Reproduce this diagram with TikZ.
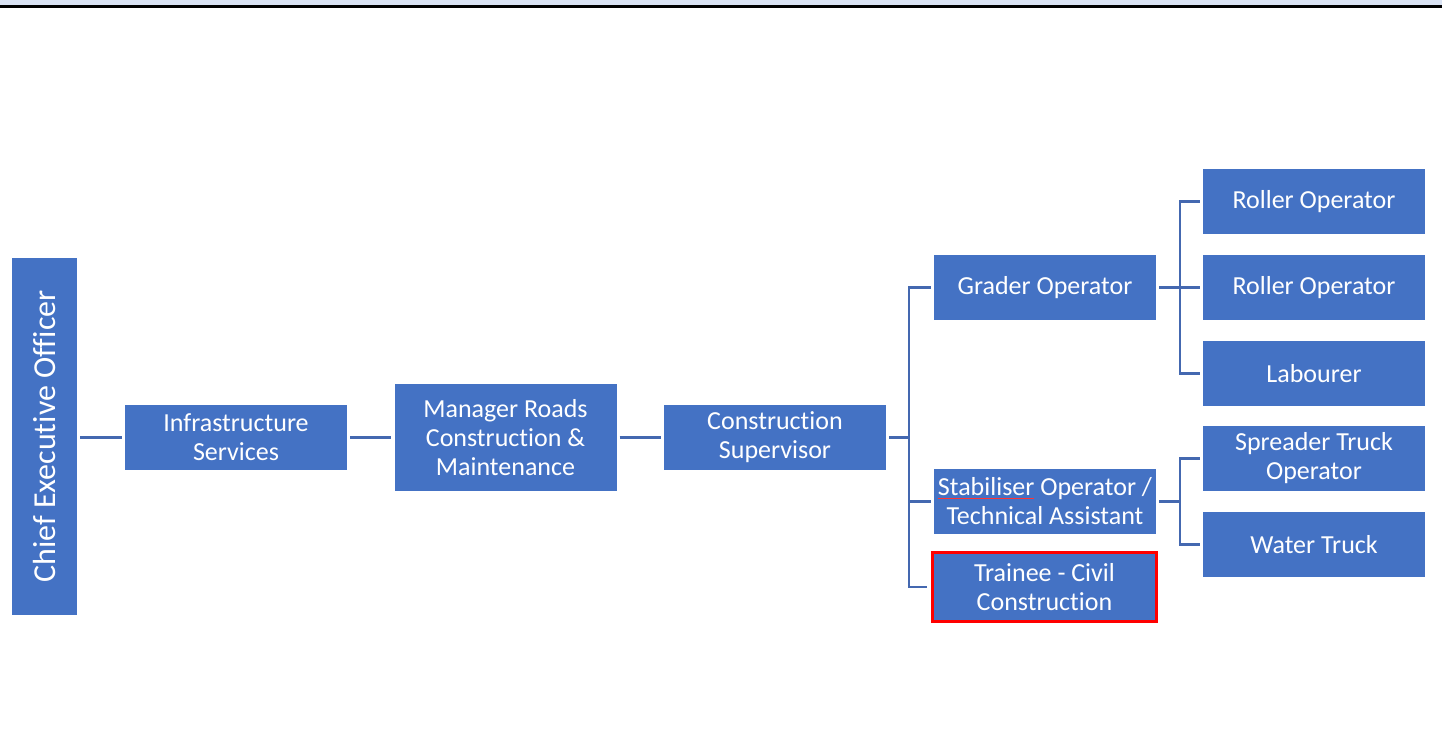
\documentclass[tikz,border=0pt]{standalone}
\usepackage{fontspec}
\setmainfont{Carlito}[Ligatures=NoCommon]
\definecolor{boxblue}{HTML}{4472C4}
\definecolor{lineblue}{HTML}{4468B0}
\definecolor{bandblue}{HTML}{D9E2F3}
\newcommand\redul[1]{\setbox0\hbox{#1}\rlap{\color{red!80!white}\rule[-3pt]{\wd0}{0.7pt}}\box0\relax}
\begin{document}
\begin{tikzpicture}[x=1pt,y=-1pt,
  box/.style={fill=boxblue, text=white, inner sep=0pt, align=center,
    font=\fontsize{26}{29}\selectfont},
  wbox/.style={box, minimum width=222pt, minimum height=65pt},
  conn/.style={draw=lineblue, line width=2.6pt},
]
\useasboundingbox (0,0) rectangle (1442,734);
\fill[bandblue] (0,0) rectangle (1442,5);
\fill[black] (0,5) rectangle (1442,7.5);

\node[box, minimum width=65pt, minimum height=357pt] (ceo) at (44.5,436.5) {};
\node[rotate=90, text=white, font=\fontsize{32}{36}\selectfont, inner sep=0pt] (ceot) at (ceo.center) {Chief Executive Officer};
\node[wbox] (inf) at (236,437.5) {Infrastructure\\Services};
\node[wbox, minimum height=107pt] (mgr) at (505.5,437.5) {Manager Roads\\Construction \&\\Maintenance};
\node[wbox] (cs) at (775,437.5) {Construction\\Supervisor};
\node[wbox] (go) at (1045,287.5) {Grader Operator};
\node[wbox] (st) at (1045,501.5) {\redul{Stabiliser} Operator /\\Technical Assistant};
\node[wbox, minimum width=224pt, minimum height=69pt, draw=red, line width=3pt] (tr) at (1044.5,587) {Trainee - Civil\\Construction};
\node[wbox] (r1) at (1314,201.5) {Roller Operator};
\node[wbox] (r2) at (1314,287.5) {Roller Operator};
\node[wbox] (lb) at (1314,373.5) {Labourer};
\node[wbox] (sp) at (1314,458.5) {Spreader Truck\\Operator};
\node[wbox] (wt) at (1314,544.5) {Water Truck};

\coordinate (b1) at (909,437.5);
\coordinate (b2) at (1180,287.5);
\coordinate (b3) at (1180,501.5);

\draw[conn, shorten <=3pt, shorten >=3pt] (ceo.east |- inf.west) -- (inf.west);
\draw[conn, shorten <=3pt, shorten >=3pt] (inf.east) -- (mgr.west);
\draw[conn, shorten <=3pt, shorten >=3pt] (mgr.east) -- (cs.west);
\draw[conn, shorten <=3pt] (cs.east) -- (b1);
\draw[conn, shorten <=3pt] (go.west) -| (b1);
\draw[conn, shorten <=3pt] (st.west) -| (b1);
\draw[conn, shorten <=4pt] (tr.west) -| (b1);
\draw[conn, shorten <=3pt] (go.east) -- (b2);
\draw[conn, shorten <=3pt] (r1.west) -| (b2);
\draw[conn, shorten <=3pt] (r2.west) -- (b2);
\draw[conn, shorten <=3pt] (lb.west) -| (b2);
\draw[conn, shorten <=3pt] (st.east) -- (b3);
\draw[conn, shorten <=3pt] (sp.west) -| (b3);
\draw[conn, shorten <=3pt] (wt.west) -| (b3);
\end{tikzpicture}
\end{document}
